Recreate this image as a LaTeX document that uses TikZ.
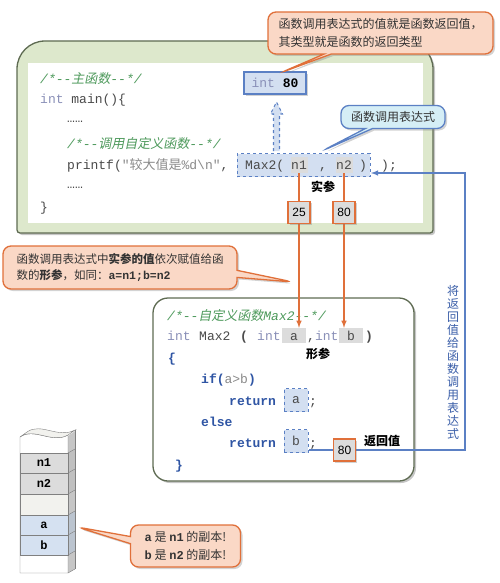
\documentclass[tikz,border=0pt]{standalone}
\usepackage{fontspec}
\setmonofont{Liberation Mono}
\setsansfont{Liberation Sans}
\newfontfamily\cjk{Noto Sans CJK SC}
\newfontfamily\cjkit{Noto Sans CJK SC}[FakeSlant=0.2]
\usetikzlibrary{shadows}
\usetikzlibrary{positioning}
\usetikzlibrary{arrows,shapes}
\usetikzlibrary{shapes.callouts,shapes.arrows}
\definecolor{boxgreen}{HTML}{DDE8CC}
\definecolor{edgegreen}{HTML}{5E6B52}
\definecolor{cmtgreen}{HTML}{4E9A5C}
\definecolor{kwblue}{HTML}{2F55A4}
\definecolor{typegray}{HTML}{8A90B8}
\definecolor{codegray}{HTML}{4A4A4A}
\definecolor{strgray}{HTML}{8A8A8A}
\definecolor{lightblue}{HTML}{D3DFF1}
\definecolor{lineblue}{HTML}{5B80C4}
\definecolor{textblue}{HTML}{3A5EA8}
\definecolor{calloutorange}{HTML}{FAD8C6}
\definecolor{lineorange}{HTML}{E0703A}
\definecolor{calloutcyan}{HTML}{D5EEF6}
\definecolor{cellgray}{HTML}{DCDCDC}
\definecolor{cellwhite}{HTML}{F2F2EE}
\definecolor{cellblue}{HTML}{D5E1F1}
\tikzstyle{code}=[anchor=base west,inner sep=0pt,text=codegray,font=\fontsize{13}{16}\selectfont\ttfamily]
\tikzstyle{comment}=[code,text=cmtgreen,font=\fontsize{13}{16}\selectfont\ttfamily\itshape]
\tikzstyle{keyword}=[code,text=kwblue,font=\fontsize{13}{16}\selectfont\ttfamily\bfseries]
\tikzstyle{typename}=[code,text=typegray]
\tikzstyle{highlight}=[anchor=base,fill=cellgray,inner xsep=0pt,inner ysep=0pt,text height=12pt,text depth=4pt,text=codegray,font=\fontsize{13}{16}\selectfont\ttfamily]
\tikzstyle{dashbox}=[draw=lineblue,dashed,line width=1pt,fill=lightblue,inner sep=0pt,text=codegray,font=\fontsize{13}{16}\selectfont\ttfamily]
\tikzstyle{valuebox}=[draw=lineorange,line width=1.4pt,fill=cellgray,minimum size=22pt,inner sep=0pt,font=\sffamily\fontsize{12}{14}\selectfont,drop shadow={opacity=0.35,shadow xshift=1.5pt,shadow yshift=-1.5pt}]
\tikzstyle{bubble}=[rectangle callout,rounded corners=8pt,line width=1.3pt,align=left,text=black!80,font=\cjk\fontsize{12}{18}\selectfont,drop shadow={opacity=0.35,shadow xshift=2pt,shadow yshift=-2pt}]
\tikzstyle{note}=[inner sep=0pt,font=\cjk\bfseries\fontsize{12}{14}\selectfont]
\tikzstyle{cell}=[draw=gray,fill=cellwhite,minimum width=48pt,inner sep=0pt,font=\ttfamily\bfseries\fontsize{12}{14}\selectfont]
\tikzstyle{passline}=[draw=lineorange,line width=1.5pt,-latex]
\tikzstyle{returnline}=[draw=lineblue,line width=1.4pt,-latex]

\begin{document}
\begin{tikzpicture}[x=1pt,y=-1pt]
\useasboundingbox (0,0) rectangle (500,583);

% main function
\draw[fill=boxgreen,draw=edgegreen,line width=1.3pt,drop shadow={opacity=0.45,shadow xshift=2pt,shadow yshift=-2pt}]
  (17,233) [rounded corners=28pt] -- (17,41) -- (433,41) [rounded corners=3pt] -- (433,233) -- cycle;
\fill[white] (28,63) rectangle (423,223);

\node[comment] (cmtmain) at (40,84) {/*--{\cjkit 主函数}--*/};
\node[code] (mainhead) at (40,104) {\textcolor{typegray}{int} main()\{};
\node[code] (dotsA) at (67,122) {……};
\node[comment] (cmtcall) at (67,148) {/*--{\cjkit 调用自定义函数}--*/};
\node[code] (printf) at (67,169) {printf(\textcolor{strgray}{"{\cjk 较大值是}\%d\textbackslash n"},};
\node[code] (dotsB) at (67,188) {……};
\node[code] (closemain) at (40,211) {\}};

% call expression
\node[dashbox,minimum width=133pt,minimum height=23pt] (call) at (303.5,165) {};
\foreach \pos/\name/\label in {{(299,169)/n1/n1}, {(344,169)/n2/n2}}
  \node[highlight,minimum width=17pt] (\name) at \pos {\label};
\node[code] (callname) at (245,169) {Max2(};
\node[code] (comma) at (319,169) {,};
\node[code] (callclose) at (359,169) {)};
\node[code] (printfend) at (381,169) {);};

\node[draw=lineblue,line width=1.2pt,fill=lightblue,minimum width=62pt,minimum height=22pt,inner sep=0pt,
  font=\fontsize{13}{16}\selectfont\ttfamily,drop shadow={opacity=0.35,shadow xshift=2pt,shadow yshift=-2pt}]
  (result) at (275,83) {\textcolor{typegray}{int} \textbf{80}};
% hollow dashed arrow up to the result
\draw[draw=lineblue,dashed,line width=1.1pt,fill=lightblue]
  (273.5,151) -- (273.5,114) -- (270.5,114) -- (276.5,102) -- (282.5,114) -- (279.5,114) -- (279.5,151);

\node[bubble,fill=calloutorange,draw=lineorange,callout absolute pointer={(280,73)},
  minimum width=225pt,minimum height=42pt] (valuenote) at (380.5,33)
  {函数调用表达式的值就是函数返回值，\\其类型就是函数的返回类型};
\node[bubble,fill=calloutcyan,draw=lineblue,callout absolute pointer={(322,151)},
  minimum width=104pt,minimum height=23pt] (callnote) at (393,117) {函数调用表达式};

% actual parameters
\node[note] (actual) at (323,187) {实参};

% formal function
\draw[fill=white,draw=edgegreen,line width=1.3pt,rounded corners=15pt,
  drop shadow={opacity=0.45,shadow xshift=2pt,shadow yshift=-2pt}] (153,298) rectangle (414,481);
\node[comment] (cmtmax) at (167,320) {/*--{\cjkit 自定义函数}Max2--*/};
\foreach \pos/\name/\label in {{(294,340)/a/a}, {(351,340)/b/b}}
  \node[highlight,minimum width=24pt,text depth=3pt] (\name) at \pos {\label};
\node[typename] (inttype) at (167,340) {int};
\node[code] (funcname) at (199,340) {Max2};
\node[code] (openpar) at (240,340) {\textbf{(}};
\node[typename] (inta) at (257,340) {int};
\node[code] (intb) at (307,340) {,\textcolor{typegray}{int}};
\node[code] (closepar) at (365,340) {\textbf{)}};
\node[note] (formal) at (318,354) {形参};
\node[code,text=kwblue] (openbrace) at (168,362) {\textbf{\{}};
\node[keyword] (ifline) at (201,383) {if(\textcolor{strgray}{\mdseries a>b})};
\node[keyword] (returna) at (229,405) {return};
\node[keyword] (elseline) at (201,426) {else};
\node[keyword] (returnb) at (229,447) {return};
\foreach \pos/\name/\label in {{(296,400)/reta/a}, {(296,441)/retb/b}}
  \node[dashbox,minimum width=24pt,minimum height=23pt] (\name) at \pos {\label};
\node[code] (semia) at (309,405) {;};
\node[code] (semib) at (309,447) {;};
\node[code,text=kwblue] (closebrace) at (175,469) {\textbf{\}}};

% passing values
\path[passline] (n1.south) -- (n1.south |- a.north);
\path[passline] (n2.south) -- (n2.south |- b.north);
\node[valuebox] (valA) at (n1.south |- 0,212.5) {25};
\node[valuebox] (valB) at (n2.south |- 0,212.5) {80};

\node[bubble,fill=calloutorange,draw=lineorange,callout absolute pointer={(293,282)},
  font=\cjk\fontsize{11.5}{16}\selectfont,minimum width=234pt,minimum height=43pt] (passnote) at (120,267.5)
  {函数调用表达式中\textbf{实参的值}依次赋值给函\\数的\textbf{形参}，如同：{\ttfamily\bfseries a=n1;b=n2}};

% return value
\coordinate (bline) at (309,450);
\coordinate (retcorner) at (465,450);
\coordinate (callin) at (371,173);
\path[returnline] (bline) -- (retcorner) |- (callin);
\node[valuebox] (retval) at (344.5,450) {80};
\node[note] (retlabel) at (382,441) {返回值};
\node[align=center,inner sep=0pt,text=textblue,font=\cjk\fontsize{12}{13}\selectfont] (backtext) at (453,362)
  {将\\返\\回\\值\\给\\函\\数\\调\\用\\表\\达\\式};

% stack
\fill[gray!45] (68,436) -- (75,431) -- (75,569) -- (68,573) -- cycle;
\foreach \top/\bot/\col in {453/473/cellgray, 473/494/cellgray, 515/535/cellblue, 535/555/cellblue}
  \fill[\col!70!gray] (68,\top) -- (75,\top-4) -- (75,\bot-4) -- (68,\bot) -- cycle;
\draw[gray] (20,437) .. controls (34,427) and (52,444) .. (68,435) -- (68,573) -- (20,573) -- cycle;
\draw[gray,fill=cellwhite] (20,437) .. controls (34,427) and (52,444) .. (68,435) -- (75,430)
  .. controls (58,439) and (41,422) .. (27,432) -- cycle;
\foreach \pos/\name/\label/\col in {{(44,463)/celln1/n1/cellgray}, {(44,483.5)/celln2/n2/cellgray},
  {(44,504.5)/cellfree//cellwhite}, {(44,525)/cella/a/cellblue}, {(44,545)/cellb/b/cellblue}}
  \node[cell,fill=\col,minimum height=20.5pt] (\name) at \pos {\label};
\foreach \y in {453,473,494,515,535,555,573}
  \draw[gray] (68,\y) -- (75,\y-4);
\draw[gray] (75,430) -- (75,569);

\node[bubble,fill=calloutorange,draw=lineorange,callout absolute pointer={(77,527)},
  minimum width=110pt,minimum height=42pt] (copynote) at (185.5,546)
  {{\ttfamily\bfseries a} 是 {\ttfamily\bfseries n1} 的副本!\\{\ttfamily\bfseries b} 是 {\ttfamily\bfseries n2} 的副本!};
\end{tikzpicture}
\end{document}
